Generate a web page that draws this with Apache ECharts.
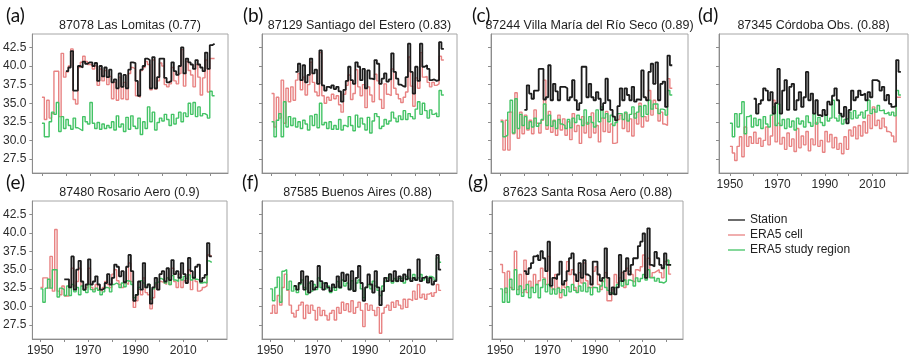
<!DOCTYPE html>
<html>
<head>
<meta charset="utf-8">
<script src="https://cdn.jsdelivr.net/npm/echarts@6/dist/echarts.min.js"></script>
<style>
html, body { margin: 0; padding: 0; background: #fff; }
#chart { width: 909px; height: 357px; }
</style>
</head>
<body>
<div id="chart"></div>
<script>
// years: ERA5 series run 1950-2022, station series 1960-2022
const era5Start = 1950;
const stationStart = 1960;
const yTicks = [27.5, 30, 32.5, 35, 37.5, 40, 42.5];
const xTicks = [1950, 1960, 1970, 1980, 1990, 2000, 2010, 2020];
const xLabels = [1950, 1970, 1990, 2010];
const seriesNames = ["Station", "ERA5 cell", "ERA5 study region"];

// (a) 87078 Las Lomitas
const aStation = [
  39.3, 39.8, 42.0, 36.7, 36.7, 40.0, 39.8, 40.6, 40.3, 40.5,
  40.5, 40.0, 40.4, 38.0, 40.0, 38.6, 39.8, 38.5, 39.5, 37.8,
  38.2, 37.0, 39.0, 37.2, 38.8, 37.0, 39.5, 40.5, 40.4, 38.0,
  36.0, 39.5, 40.0, 41.0, 40.8, 37.0, 41.2, 37.0, 38.5, 41.0,
  41.0, 38.4, 37.8, 38.0, 40.5, 39.3, 38.8, 40.0, 42.5, 39.0,
  41.0, 40.5, 40.2, 39.6, 40.8, 40.2, 39.8, 39.3, 41.8, 39.6,
  42.8, 43.0, 43.0
];
const aCell = [
  35.8, 32.8, 35.4, 33.0, 33.6, 39.3, 39.3, 33.2, 41.7, 38.5,
  39.2, 40.0, 42.3, 35.5, 34.9, 39.8, 40.5, 41.3, 40.6, 40.2,
  40.2, 39.6, 40.0, 37.4, 39.6, 38.0, 39.4, 37.5, 38.6, 35.6,
  37.8, 35.4, 38.5, 35.6, 37.8, 35.5, 39.0, 39.8, 39.6, 36.0,
  35.8, 39.4, 39.8, 40.6, 40.2, 36.8, 40.8, 36.9, 38.0, 40.4,
  40.0, 37.5, 37.2, 37.6, 39.8, 38.0, 37.6, 39.0, 42.2, 37.3,
  40.6, 39.4, 38.8, 37.2, 40.2, 38.5, 36.1, 38.4, 40.8, 36.5,
  41.0, 41.0, 41.0
];
const aRegion = [
  32.3, 30.5, 30.5, 32.5, 33.8, 33.5, 35.1, 31.2, 33.2, 31.6,
  32.8, 32.0, 31.5, 33.0, 31.7, 31.5, 31.3, 33.2, 32.5, 32.2,
  35.1, 32.3, 31.6, 32.4, 31.5, 32.2, 31.6, 32.0, 31.7, 32.5,
  31.4, 33.3, 31.8, 32.2, 31.2, 33.1, 31.5, 33.3, 31.9, 31.6,
  33.0, 30.8, 32.5, 31.6, 34.5, 32.5, 33.8, 31.4, 32.4, 33.0,
  32.6, 33.5, 32.8, 32.0, 33.5, 32.2, 33.0, 33.8, 32.5, 33.7,
  33.2, 35.0, 33.5, 35.1, 33.2, 34.5, 33.3, 33.6, 33.4, 33.0,
  36.6, 36.0, 36.0
];

// (b) 87129 Santiago del Estero
const bStation = [
  39.2, 40.3, 38.1, 40.1, 37.8, 38.8, 41.0, 39.0, 39.5, 37.6,
  42.1, 37.4, 36.7, 37.2, 37.0, 37.4, 36.9, 37.2, 36.6, 35.2,
  36.8, 38.0, 39.9, 38.1, 37.6, 40.5, 39.9, 38.1, 39.6, 37.0,
  39.4, 38.3, 38.2, 40.8, 40.3, 37.6, 38.3, 39.0, 37.9, 38.2,
  41.7, 39.2, 38.3, 37.5, 37.3, 37.2, 38.5, 43.0, 39.2, 36.3,
  39.9, 38.0, 43.0, 39.9, 40.1, 39.6, 38.1, 38.2, 38.0, 38.1,
  43.2, 42.3, 42.3
];
const bCell = [
  36.3, 31.8, 35.8, 33.0, 38.1, 32.3, 37.0, 35.2, 37.2, 35.4,
  38.1, 39.0, 36.8, 38.5, 36.1, 37.5, 40.5, 37.8, 36.5, 36.0,
  41.8, 36.0, 35.0, 35.8, 35.4, 36.2, 35.6, 36.0, 34.8, 33.8,
  36.2, 37.4, 38.8, 35.5, 36.3, 39.5, 37.2, 36.0, 37.5, 34.4,
  37.2, 36.1, 35.2, 38.9, 38.0, 35.5, 34.3, 37.6, 36.2, 36.0,
  39.6, 37.0, 36.2, 35.6, 35.1, 35.8, 36.5, 41.2, 37.3, 34.6,
  38.4, 37.0, 41.8, 38.5, 38.6, 37.8, 37.2, 37.8, 37.4, 37.6,
  41.3, 40.8, 40.8
];
const bRegion = [
  32.5, 30.5, 32.7, 33.6, 30.5, 35.2, 31.8, 33.2, 32.0, 33.0,
  31.8, 32.5, 31.6, 32.7, 32.2, 31.4, 33.3, 32.0, 33.5, 31.7,
  35.0, 32.1, 32.4, 31.6, 32.5, 31.5, 32.0, 31.5, 32.8, 31.4,
  32.0, 31.8, 33.2, 32.0, 31.3, 33.4, 31.8, 33.0, 32.2, 31.4,
  33.1, 31.0, 32.6, 33.6, 33.2, 31.6, 31.9, 32.8, 32.2, 32.6,
  33.8, 33.0, 32.5, 33.3, 32.8, 34.0, 32.8, 33.6, 33.2, 32.9,
  34.2, 35.2, 33.5, 35.0, 34.0, 33.0, 34.1, 33.5, 33.7, 33.2,
  36.7, 36.1, 36.1
];

// (c) 87244 Villa María del Río Seco
const cStation = [
  34.1, 37.4, 36.3, 35.6, 36.7, 36.7, 39.6, 39.6, 35.5, 35.8,
  40.1, 35.4, 37.6, 36.6, 35.4, 37.2, 37.2, 37.0, 35.4, 35.8,
  38.1, 35.4, 34.1, 35.0, 39.9, 39.9, 35.8, 37.6, 35.8, 35.4,
  36.5, 35.6, 34.1, 35.0, 38.3, 35.4, 34.1, 33.2, 32.7, 34.6,
  37.0, 35.4, 37.0, 36.1, 35.4, 37.2, 35.2, 35.5, 35.4, 39.4,
  35.8, 35.4, 39.2, 40.3, 37.6, 40.5, 35.4, 37.6, 37.9, 34.5,
  41.4, 40.1, 40.1
];
const cCell = [
  32.7, 28.7, 32.7, 28.7, 33.8, 30.9, 36.4, 30.3, 33.8, 30.9,
  33.4, 31.4, 32.7, 30.9, 34.1, 32.3, 31.0, 32.7, 38.1, 31.5,
  33.9, 31.1, 32.7, 30.7, 33.4, 31.4, 32.9, 30.7, 32.5, 30.1,
  33.6, 31.2, 32.0, 29.6, 33.2, 31.0, 32.4, 30.4, 33.7, 31.0,
  32.0, 29.8, 33.0, 31.2, 33.9, 31.1, 32.2, 29.6, 29.7, 32.8,
  33.4, 31.6, 33.6, 31.2, 32.9, 30.6, 33.6, 32.2, 35.0, 31.8,
  33.2, 32.6, 36.7, 33.4, 35.4, 34.3, 32.6, 33.8, 32.2, 32.0,
  38.3, 37.0, 37.0
];
const cRegion = [
  32.5, 30.5, 30.7, 33.8, 35.4, 31.0, 35.6, 31.6, 33.5, 32.0,
  33.2, 31.6, 32.5, 31.8, 33.0, 31.9, 32.3, 32.8, 34.9, 32.0,
  33.4, 31.9, 32.6, 31.6, 32.8, 32.2, 32.0, 31.6, 32.8, 31.7,
  33.0, 32.4, 33.4, 32.8, 32.0, 34.1, 32.2, 33.2, 32.4, 31.8,
  34.1, 32.5, 34.5, 33.0, 33.6, 32.5, 33.4, 32.0, 32.4, 33.6,
  33.6, 32.8, 33.8, 32.6, 33.5, 34.5, 33.0, 33.8, 34.6, 33.2,
  34.7, 33.5, 35.4, 34.2, 34.9, 34.9, 33.6, 34.2, 34.1, 33.4,
  36.7, 36.1, 36.1
];

// (d) 87345 Córdoba Obs.
const dStation = [
  35.6, 33.6, 34.9, 35.4, 37.0, 36.7, 35.4, 36.5, 33.6, 35.0,
  39.6, 33.6, 36.7, 38.1, 34.1, 37.2, 37.6, 34.1, 35.4, 36.5,
  34.5, 35.8, 39.2, 35.4, 36.3, 33.6, 35.4, 33.4, 33.2, 34.1,
  33.4, 35.2, 34.8, 36.0, 37.0, 35.4, 33.6, 33.2, 34.5, 32.3,
  34.1, 36.7, 35.4, 35.8, 36.7, 36.1, 36.3, 35.4, 36.5, 35.8,
  38.1, 38.1, 37.9, 36.7, 37.2, 35.4, 36.1, 34.9, 34.5, 34.6,
  40.8, 39.2, 39.2
];
const dCell = [
  29.2, 28.3, 27.3, 29.2, 30.5, 27.8, 31.8, 29.2, 30.5, 29.6,
  31.1, 29.6, 30.3, 29.2, 30.0, 31.8, 29.4, 30.6, 35.4, 29.8,
  32.3, 29.5, 30.4, 28.8, 31.0, 29.2, 30.2, 28.5, 31.6, 29.0,
  30.6, 29.4, 31.2, 28.6, 30.2, 29.4, 32.4, 29.2, 30.0, 28.4,
  31.2, 29.8, 30.8, 29.0, 30.4, 28.8, 29.6, 28.2, 30.5, 28.8,
  31.4, 30.6, 31.8, 30.2, 32.0, 30.6, 32.5, 31.0, 33.4, 31.6,
  34.5, 32.0, 32.7, 31.6, 33.0, 31.8, 31.2, 31.0, 30.6, 29.8,
  35.8, 35.8, 35.8
];
const dRegion = [
  32.3, 30.5, 33.6, 31.8, 33.6, 35.2, 30.9, 33.2, 33.4, 31.8,
  33.0, 32.0, 32.8, 31.6, 33.2, 32.2, 31.8, 33.4, 34.5, 32.0,
  34.9, 32.0, 32.8, 31.6, 32.9, 31.8, 32.6, 31.4, 33.0, 32.2,
  32.6, 31.8, 33.3, 32.4, 31.9, 33.6, 32.2, 33.1, 32.4, 32.0,
  33.4, 32.6, 33.0, 35.4, 33.0, 32.6, 33.4, 32.2, 32.8, 33.0,
  33.8, 32.9, 34.0, 33.0, 33.4, 33.8, 33.0, 34.0, 35.4, 33.6,
  34.2, 33.8, 34.7, 34.0, 34.1, 33.6, 33.8, 33.4, 33.8, 33.3,
  36.7, 36.1, 36.1
];

// (e) 87480 Rosario Aero
const eStation = [
  33.7, 33.7, 32.6, 36.8, 32.3, 35.0, 36.2, 33.4, 32.3, 33.0,
  36.4, 33.0, 33.4, 34.1, 33.0, 32.3, 32.5, 33.2, 34.4, 33.0,
  33.9, 35.7, 35.4, 34.1, 34.8, 33.3, 35.4, 37.0, 34.8, 30.8,
  31.6, 33.4, 32.3, 35.9, 32.6, 33.0, 30.4, 32.6, 33.9, 32.3,
  34.4, 34.8, 33.4, 35.2, 33.6, 36.3, 34.4, 34.8, 33.9, 35.9,
  34.4, 33.2, 36.6, 34.8, 33.9, 35.4, 35.7, 33.4, 33.9, 34.3,
  38.6, 36.8, 36.8
];
const eCell = [
  32.6, 33.9, 33.9, 32.5, 36.8, 32.1, 40.45, 32.1, 31.6, 32.8,
  31.45, 31.45, 32.6, 35.2, 32.8, 33.4, 35.2, 32.8, 32.3, 32.6,
  35.2, 32.6, 32.3, 33.0, 32.3, 32.1, 32.6, 33.4, 33.0, 32.6,
  34.4, 35.0, 33.5, 33.0, 32.6, 33.2, 33.0, 35.9, 33.4, 29.9,
  30.8, 32.3, 31.6, 33.9, 31.9, 31.6, 29.7, 31.2, 33.0, 32.3,
  33.4, 33.2, 33.0, 33.9, 33.0, 35.2, 33.4, 32.6, 34.4, 32.6,
  33.5, 33.4, 35.0, 32.3, 33.9, 33.4, 32.1, 32.3, 32.6, 32.8,
  37.0, 36.8, 36.8
];
const eRegion = [
  32.4, 30.6, 32.5, 33.7, 32.5, 35.0, 35.0, 31.3, 32.5, 32.3,
  31.5, 32.8, 31.5, 33.0, 32.0, 32.6, 31.6, 32.8, 32.2, 31.9,
  33.0, 32.3, 32.0, 32.5, 32.2, 31.6, 32.0, 32.6, 32.5, 32.0,
  33.0, 33.2, 33.0, 32.6, 33.2, 32.7, 33.5, 33.4, 33.0, 31.2,
  31.6, 32.6, 33.5, 33.2, 32.6, 33.0, 31.0, 32.4, 33.2, 33.4,
  33.8, 33.6, 33.2, 33.9, 33.0, 34.2, 33.6, 33.4, 34.0, 33.6,
  34.1, 33.8, 34.3, 33.6, 34.0, 33.7, 33.6, 33.2, 33.3, 33.2,
  36.2, 36.0, 36.0
];

// (f) 87585 Buenos Aires
const fStation = [
  32.8, 32.3, 33.2, 34.8, 32.3, 34.1, 31.9, 33.45, 32.3, 32.6,
  35.5, 33.45, 32.3, 33.2, 32.6, 32.1, 33.0, 32.6, 34.1, 32.6,
  34.6, 33.45, 34.35, 32.3, 34.8, 32.1, 33.9, 35.5, 33.2, 30.8,
  32.6, 34.35, 33.0, 31.9, 34.8, 32.6, 30.2, 32.1, 33.9, 33.45,
  34.4, 33.45, 34.8, 33.45, 34.1, 33.45, 34.35, 33.7, 35.0, 33.45,
  33.9, 33.6, 36.4, 33.45, 33.9, 34.1, 33.25, 33.9, 33.0, 33.45,
  37.0, 35.0, 35.0
];
const fCell = [
  29.1, 30.2, 29.1, 31.5, 30.2, 32.6, 34.4, 32.2, 30.2, 29.1,
  28.6, 29.5, 30.2, 30.6, 28.4, 30.2, 29.1, 30.2, 29.5, 28.2,
  29.9, 28.8, 29.5, 28.8, 28.2, 29.1, 29.5, 28.2, 29.9, 29.1,
  30.6, 29.5, 30.4, 29.3, 30.8, 29.1, 29.9, 30.6, 29.5, 27.3,
  30.4, 29.5, 30.2, 29.5, 28.8, 29.9, 26.4, 29.1, 29.9, 30.2,
  29.5, 30.6, 29.9, 30.8, 30.2, 29.7, 31.0, 29.9, 31.0, 30.8,
  32.1, 31.0, 33.0, 31.2, 31.7, 31.0, 31.7, 31.9, 31.4, 31.9,
  33.0, 32.2, 32.2
];
const fRegion = [
  32.4, 30.8, 32.6, 34.0, 30.6, 34.8, 35.0, 32.3, 33.45, 32.1,
  32.8, 31.9, 33.0, 33.6, 32.6, 31.65, 33.2, 32.1, 33.0, 32.3,
  33.9, 32.6, 33.2, 32.4, 32.8, 31.9, 32.6, 32.2, 33.4, 32.5,
  33.6, 32.8, 33.2, 32.4, 33.5, 32.2, 33.2, 33.6, 32.4, 31.2,
  32.6, 33.0, 32.4, 33.45, 32.8, 32.2, 31.5, 32.8, 33.4, 33.9,
  34.35, 33.2, 33.8, 33.4, 33.8, 33.9, 33.2, 34.1, 33.8, 33.5,
  34.35, 33.6, 33.9, 34.35, 33.6, 33.9, 33.5, 34.1, 33.9, 33.6,
  36.6, 36.0, 36.0
];

// (g) 87623 Santa Rosa Aero
const gStation = [
  34.8, 34.4, 35.2, 35.9, 36.8, 37.0, 36.3, 37.5, 36.55, 34.8,
  38.8, 32.8, 33.9, 33.7, 34.35, 36.1, 33.0, 33.5, 34.8, 36.55,
  37.2, 34.35, 33.45, 35.9, 33.9, 36.3, 34.35, 34.1, 33.0, 36.1,
  36.1, 34.35, 33.5, 33.9, 37.9, 33.9, 31.65, 32.6, 31.65, 32.6,
  37.0, 33.45, 34.8, 36.55, 34.35, 35.65, 36.55, 36.55, 38.2, 38.8,
  39.9, 33.9, 40.6, 35.65, 35.45, 37.4, 36.55, 35.65, 35.2, 37.2,
  35.65, 35.65, 35.65
];
const gCell = [
  35.7, 34.6, 31.9, 34.8, 32.6, 32.3, 37.5, 32.3, 34.35, 31.9,
  36.3, 31.9, 33.45, 32.6, 34.35, 33.0, 33.5, 35.2, 33.9, 33.0,
  36.8, 32.6, 32.3, 34.35, 32.6, 31.2, 33.0, 32.6, 36.1, 34.35,
  35.0, 32.6, 32.1, 34.6, 33.2, 35.9, 33.5, 32.6, 32.6, 34.8,
  35.4, 33.0, 32.3, 33.4, 34.6, 30.8, 30.8, 32.3, 34.35, 33.2,
  33.9, 34.6, 32.6, 35.2, 34.8, 34.35, 33.4, 35.0, 34.8, 35.4,
  37.0, 33.9, 36.55, 34.0, 34.6, 34.8, 35.0, 34.6, 33.9, 36.1,
  36.3, 34.4, 34.4
];
const gRegion = [
  32.4, 30.6, 32.5, 30.6, 33.7, 32.3, 35.0, 31.65, 32.8, 31.4,
  32.3, 33.0, 31.2, 32.6, 31.9, 33.0, 31.2, 32.6, 33.7, 32.0,
  33.0, 31.7, 32.4, 31.7, 32.5, 31.9, 32.3, 31.5, 32.7, 32.0,
  33.0, 32.2, 31.9, 32.8, 32.1, 33.2, 32.0, 32.6, 31.6, 32.6,
  32.55, 32.0, 32.8, 33.9, 32.6, 32.2, 31.9, 31.65, 32.6, 33.0,
  33.45, 32.8, 33.6, 33.0, 33.6, 33.45, 32.8, 33.9, 33.4, 33.8,
  34.35, 33.6, 35.0, 33.9, 34.0, 33.45, 33.8, 33.3, 33.2, 33.45,
  36.3, 35.65, 35.65
];

const panels = [
  { tag: "(a)", title: "87078 Las Lomitas (0.77)", station: aStation, cell: aCell, region: aRegion },
  { tag: "(b)", title: "87129 Santiago del Estero (0.83)", station: bStation, cell: bCell, region: bRegion },
  { tag: "(c)", title: "87244 Villa María del Río Seco (0.89)", station: cStation, cell: cCell, region: cRegion },
  { tag: "(d)", title: "87345 Córdoba Obs. (0.88)", station: dStation, cell: dCell, region: dRegion },
  { tag: "(e)", title: "87480 Rosario Aero (0.9)", station: eStation, cell: eCell, region: eRegion },
  { tag: "(f)", title: "87585 Buenos Aires (0.88)", station: fStation, cell: fCell, region: fRegion },
  { tag: "(g)", title: "87623 Santa Rosa Aero (0.88)", station: gStation, cell: gCell, region: gRegion }
];

// layout of each panel box: left, top, width, height, x range, tag position, axis labels
const layout = [
  { left: 32, top: 34, width: 196, height: 139, xMin: 1946, xMax: 2027.6, tagX: 6, yLab: true, xLab: false },
  { left: 262, top: 34, width: 195, height: 139, xMin: 1946, xMax: 2027.5, tagX: 243, yLab: false, xLab: false },
  { left: 491, top: 34, width: 197, height: 139, xMin: 1946, xMax: 2028.6, tagX: 472, yLab: false, xLab: false },
  { left: 719, top: 34, width: 189, height: 139, xMin: 1945.4, xMax: 2025, tagX: 698, yLab: false, xLab: true },
  { left: 32, top: 201, width: 195, height: 139, xMin: 1946.6, xMax: 2028.4, tagX: 6, yLab: true, xLab: true },
  { left: 262, top: 201, width: 191, height: 139, xMin: 1946.6, xMax: 2027, tagX: 242, yLab: false, xLab: true },
  { left: 492, top: 201, width: 191, height: 139, xMin: 1946.6, xMax: 2027, tagX: 468, yLab: false, xLab: true }
];

const colors = { station: "#1c1c1c", cell: "#e88383", region: "#43c365" };
const axisGray = "#8c8c8c";

const toPairs = (arr, start) => arr.map((v, i) => [start + i, v]);

const chart = echarts.init(document.getElementById("chart"), null, { renderer: "canvas" });

const grid = [], xAxis = [], yAxis = [], series = [], graphic = [];

panels.forEach((p, i) => {
  const L = layout[i];
  grid.push({
    left: L.left, top: L.top, width: L.width, height: L.height,
    show: true, borderColor: "#a6a6a6", borderWidth: 1, backgroundColor: "#fff"
  });
  xAxis.push({
    type: "value", gridIndex: i, min: L.xMin, max: L.xMax,
    axisLine: { show: true, lineStyle: { color: axisGray, width: 1 } },
    axisTick: { show: true, length: 3, customValues: xTicks, lineStyle: { color: axisGray } },
    axisLabel: {
      show: L.xLab, customValues: xLabels, margin: 6,
      fontFamily: "Liberation Sans", fontSize: 12, color: "#2b2b2b",
      formatter: v => String(v)
    },
    splitLine: { show: false }
  });
  yAxis.push({
    type: "value", gridIndex: i, min: 25.62, max: 44.3,
    axisLine: { show: true, lineStyle: { color: axisGray, width: 1 } },
    axisTick: { show: true, length: 3, customValues: yTicks, lineStyle: { color: axisGray } },
    axisLabel: {
      show: L.yLab, customValues: yTicks, margin: 6,
      fontFamily: "Liberation Sans", fontSize: 12, color: "#2b2b2b",
      formatter: v => v.toFixed(1)
    },
    splitLine: { show: false }
  });
  const line = (name, arr, start, color, width, z) => ({
    type: "line", name, xAxisIndex: i, yAxisIndex: i,
    data: toPairs(arr, start), step: "end", symbol: "none", showSymbol: false,
    lineStyle: { color, width }, itemStyle: { color }, z, animation: false, silent: true
  });
  series.push(line(seriesNames[1], p.cell, era5Start, colors.cell, 1.4, 2));
  series.push(line(seriesNames[2], p.region, era5Start, colors.region, 1.4, 3));
  series.push(line(seriesNames[0], p.station, stationStart, colors.station, 1.8, 4));

  graphic.push({
    type: "text", x: L.left + L.width / 2, y: L.top - 8,
    style: {
      text: p.title, font: '12.5px "Liberation Sans"', fill: "#1e1e1e",
      textAlign: "center", textVerticalAlign: "middle"
    }
  });
  graphic.push({
    type: "text", x: L.tagX, y: L.top - 18,
    style: {
      text: p.tag, font: '19px Lato', fill: "#111",
      textAlign: "left", textVerticalAlign: "middle"
    }
  });
});

chart.setOption({
  animation: false,
  grid, xAxis, yAxis, series, graphic,
  legend: {
    data: seriesNames,
    orient: "vertical", left: 723, top: 209,
    itemWidth: 17, itemHeight: 10, itemGap: 3,
    icon: "path://M0,4.5 L17,4.5 L17,5.8 L0,5.8 Z",
    selectedMode: false,
    textStyle: { fontFamily: "Liberation Sans", fontSize: 12, color: "#222", padding: [0, 0, 0, 0] }
  }
});

window.addEventListener("resize", () => chart.resize());
</script>
</body>
</html>
